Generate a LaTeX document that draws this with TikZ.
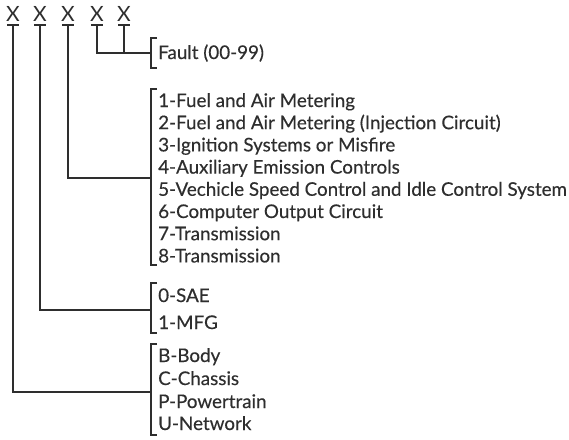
\documentclass[tikz,border=0pt]{standalone}
\usepackage{fontspec}
\setmainfont{Lato}
\newfontfamily\txtfont{Lato}[FakeBold=0.35]
\definecolor{ink}{HTML}{2E2E2E}
\begin{document}
\begin{tikzpicture}[x=1pt,y=1pt,
  lbl/.style={anchor=base west,inner sep=0pt,text=ink,font=\txtfont\fontsize{18.8}{20}\selectfont},
  xl/.style={anchor=base,inner sep=0pt,text=ink,font=\fontsize{21}{22}\selectfont},
  ln/.style={draw=ink,line width=1.1pt},
  brk/.style={draw=ink,line width=1.1pt}]
\useasboundingbox (0,0) rectangle (569,-439);
% X labels
\node[xl] (x1) at (13,-21) {X};
\node[xl] (x2) at (40,-21) {X};
\node[xl] (x3) at (68,-21) {X};
\node[xl] (x4) at (97,-21) {X};
\node[xl] (x5) at (124,-21) {X};
\foreach \n/\x in {x1/13,x2/40,x3/68,x4/97,x5/124}{
  \coordinate (\n u) at (\x,-25);
  \draw[ln] ([xshift=-6pt]\n u) -- ([xshift=6pt]\n u);
}
% group 1: fault
\coordinate (b1) at (151,-53);
\draw[brk] (157,-38) -- (151,-38) -- (151,-68) -- (157,-68);
\node[lbl] (f) at (158,-59) {Fault (00-99)};
\draw[ln] (x4u) |- (b1);
\draw[ln] (x5u) -- (x5u |- b1);
% group 2
\coordinate (b2) at (151,-178);
\draw[brk] (157,-89) -- (151,-89) -- (151,-265) -- (157,-265);
\node[lbl] (t1) at (158,-107) {1-Fuel and Air Metering};
\node[lbl] (t2) at (158,-129.2) {2-Fuel and Air Metering (Injection Circuit)};
\node[lbl] (t3) at (158,-151.4) {3-Ignition Systems or Misfire};
\node[lbl] (t4) at (158,-173.6) {4-Auxiliary Emission Controls};
\node[lbl] (t5) at (158,-195.8) {5-Vechicle Speed Control and Idle Control System};
\node[lbl] (t6) at (158,-218) {6-Computer Output Circuit};
\node[lbl] (t7) at (158,-240.2) {7-Transmission};
\node[lbl] (t8) at (158,-262.4) {8-Transmission};
\draw[ln] (x3u) |- (b2);
% group 3
\coordinate (b3) at (151,-310);
\draw[brk] (157,-283) -- (151,-283) -- (151,-333) -- (157,-333);
\node[lbl] (s0) at (158,-302) {0-SAE};
\node[lbl] (s1) at (158,-329) {1-MFG};
\draw[ln] (x2u) |- (b3);
% group 4
\coordinate (b4) at (151,-392);
\draw[brk] (157,-344) -- (151,-344) -- (151,-435) -- (157,-435);
\node[lbl] (c1) at (158,-362) {B-Body};
\node[lbl] (c2) at (158,-385) {C-Chassis};
\node[lbl] (c3) at (158,-408) {P-Powertrain};
\node[lbl] (c4) at (158,-430) {U-Network};
\draw[ln] (x1u) |- (b4);
\end{tikzpicture}
\end{document}
